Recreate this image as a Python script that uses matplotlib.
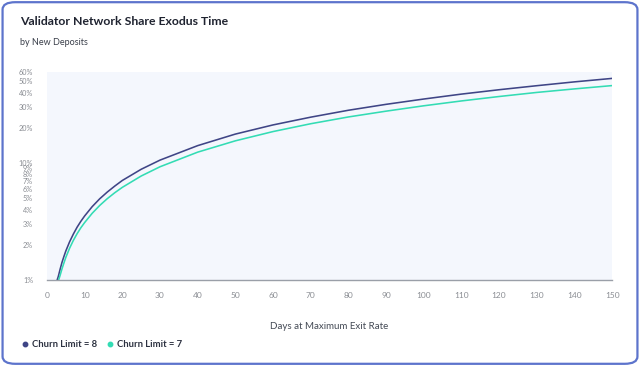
import matplotlib
matplotlib.use("Agg")
import matplotlib.pyplot as plt
from matplotlib.patches import FancyBboxPatch
from matplotlib.lines import Line2D
from matplotlib.ticker import FixedLocator, FixedFormatter, NullLocator

plt.rcParams["font.family"] = ["Lato", "DejaVu Sans"]

# values (percent of validator set)
days_8 = [2.7, 3, 3.5, 4, 4.5, 5, 6, 7, 8, 9, 10, 12, 14, 16, 18, 20, 25,
          30, 40, 50, 60, 70, 80, 90, 100, 110, 120, 130, 140, 150]
share_8 = [1.0, 1.07, 1.24, 1.42, 1.59, 1.77, 2.12, 2.47, 2.83, 3.18, 3.53,
           4.24, 4.95, 5.65, 6.36, 7.1, 8.85, 10.6, 14.1, 17.7, 21.2, 24.7,
           28.3, 31.8, 35.3, 38.9, 42.4, 45.9, 49.5, 53.0]
days_7 = [3.1, 3.5, 4, 4.5, 5, 6, 7, 8, 9, 10, 12, 14, 16, 18, 20, 25, 30,
          40, 50, 60, 70, 80, 90, 100, 110, 120, 130, 140, 150]
share_7 = [1.0, 1.1, 1.25, 1.4, 1.56, 1.87, 2.18, 2.49, 2.8, 3.1, 3.72,
           4.34, 4.96, 5.58, 6.2, 7.75, 9.3, 12.4, 15.5, 18.6, 21.7, 24.8,
           27.8, 30.9, 34.0, 37.1, 40.2, 43.1, 46.0]

y_ticks = [1, 2, 3, 4, 5, 6, 7, 8, 9, 10, 20, 30, 40, 50, 60]
y_labels = ["%d%%" % v for v in y_ticks]
x_ticks = list(range(0, 151, 10))

NAVY = "#3f4586"
TEAL = "#33dcb4"

fig = plt.figure(figsize=(6.4, 3.66), dpi=100)
fig.patch.set_facecolor("white")

# rounded card border
fig.patches.append(FancyBboxPatch((0.004, 0.006), 0.992, 0.988,
                                  boxstyle="round,pad=0,rounding_size=0.02",
                                  transform=fig.transFigure, fill=False,
                                  edgecolor="#5d74cc", linewidth=1.6))

ax = fig.add_axes([0.0734, 0.235, 0.883, 0.568])
ax.set_facecolor("#f4f7fd")
ax.plot(days_8, share_8, color=NAVY, lw=1.15, solid_capstyle="round")
ax.plot(days_7, share_7, color=TEAL, lw=1.15, solid_capstyle="round")

ax.set_yscale("log")
ax.set_ylim(1, 60)
ax.set_xlim(0, 150)
ax.yaxis.set_major_locator(FixedLocator(y_ticks))
ax.yaxis.set_major_formatter(FixedFormatter(y_labels))
ax.yaxis.set_minor_locator(NullLocator())
ax.set_xticks(x_ticks)

for s in ["top", "right", "left"]:
    ax.spines[s].set_visible(False)
ax.spines["bottom"].set_color("#9a9fa8")
ax.spines["bottom"].set_linewidth(1.0)
ax.tick_params(axis="y", length=0, pad=10, labelsize=5.2, labelcolor="#8a8d93")
ax.tick_params(axis="x", length=0, pad=9, labelsize=6, labelcolor="#8a8d93")
ax.set_xlabel("Days at Maximum Exit Rate", fontsize=7, color="#444a55",
              labelpad=16)

fig.text(0.031, 0.94, "Validator Network Share Exodus Time", fontsize=8.8,
         color="#1f2330", va="center", fontweight="bold")
fig.text(0.031, 0.885, "by New Deposits", fontsize=6.5, color="#3a3f4a",
         va="center")

handles = [Line2D([], [], marker="o", ls="", color=NAVY, markersize=3.2),
           Line2D([], [], marker="o", ls="", color=TEAL, markersize=3.2)]
leg = fig.legend(handles, ["Churn Limit = 8", "Churn Limit = 7"], ncol=2,
                 loc="center left", bbox_to_anchor=(0.018, 0.058),
                 frameon=False, fontsize=6.8, handletextpad=0.3,
                 columnspacing=0.8, handlelength=1.0)
for t in leg.get_texts():
    t.set_color("#2c3140")
    t.set_fontweight("bold")

fig.savefig("out.png", dpi=100)
